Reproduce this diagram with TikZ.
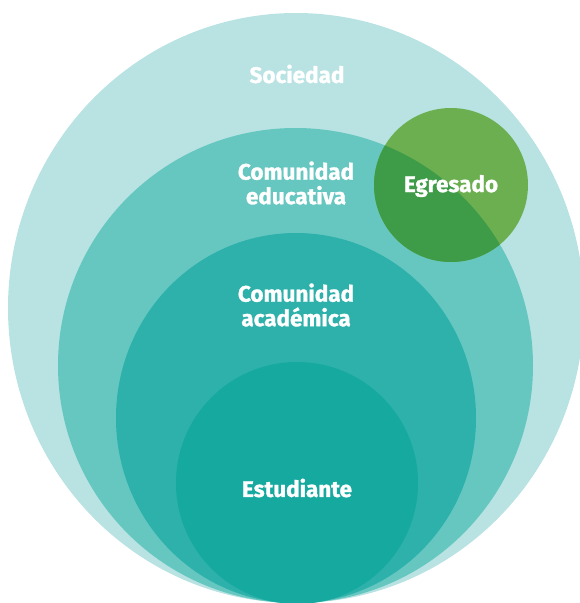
\documentclass[tikz,border=0pt]{standalone}
\usepackage{fontspec}
\setmainfont{Fira Sans}[BoldFeatures={FakeBold=1.2}]
\definecolor{soc}{HTML}{B8E3E2}
\definecolor{edu}{HTML}{66C7C1}
\definecolor{aca}{HTML}{2DB1AA}
\definecolor{est}{HTML}{15A9A0}
\definecolor{egl}{HTML}{6CAF50}
\definecolor{egd}{HTML}{3E9B47}
\begin{document}
\begin{tikzpicture}[x=1pt,y=-1pt,
  lbl/.style={text=white,font=\fontsize{22.5}{24.5}\selectfont\bfseries,align=center,inner sep=0pt}]
\useasboundingbox (0,0) rectangle (580,603);
\clip (0,0) rectangle (580,603);
\fill[soc] (296,308) ellipse [x radius=288pt, y radius=295pt];
\fill[edu] (295.5,365.5) ellipse [x radius=237.5pt, y radius=237.5pt];
\fill[aca] (296,418) ellipse [x radius=180pt, y radius=185pt];
\fill[est] (297,483) ellipse [x radius=121pt, y radius=121pt];
\fill[egl] (451,185) circle [radius=77pt];
\begin{scope}
  \clip (295.5,365.5) ellipse [x radius=237.5pt, y radius=237.5pt];
  \fill[egd] (451,185) circle [radius=77pt];
\end{scope}
\node[lbl] (sociedad) at (297,74) {Sociedad};
\node[lbl] (educativa) at (296,183) {Comunidad\\educativa};
\node[lbl] (academica) at (296,305) {Comunidad\\académica};
\node[lbl] (egresado) at (451,186) {Egresado};
\node[lbl] (estudiante) at (297,488) {Estudiante};
\end{tikzpicture}
\end{document}
